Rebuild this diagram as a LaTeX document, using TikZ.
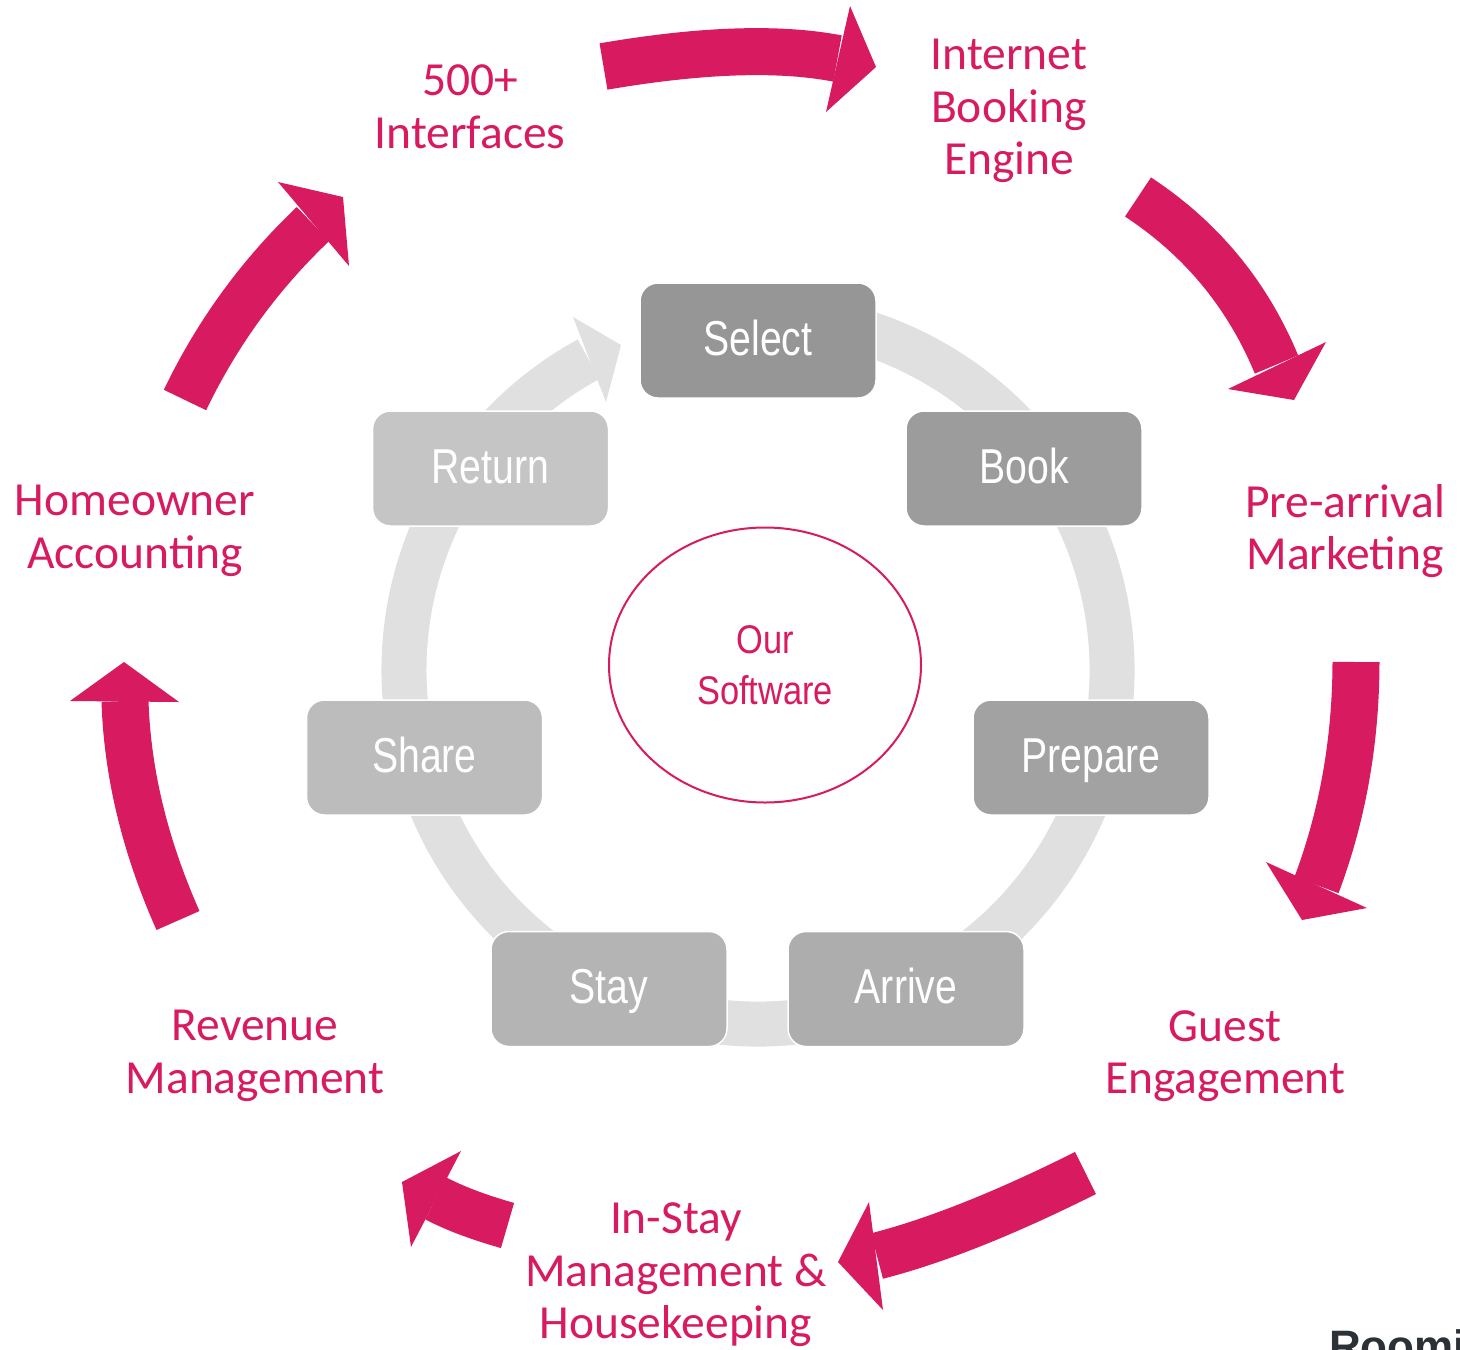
\documentclass[tikz,border=0pt]{standalone}
\usepackage{fontspec}
\setmainfont{Carlito}
\newfontfamily\narrowfont[FakeStretch=0.8]{Liberation Sans}
\newfontfamily\softfont[FakeStretch=0.86]{Liberation Sans}
\newfontfamily\logofont{Liberation Sans}
\usetikzlibrary{shapes.geometric}
\definecolor{pinkc}{HTML}{D81B60}
\definecolor{ringgray}{HTML}{E0E0E0}
\definecolor{gSelect}{HTML}{969696}
\definecolor{gBook}{HTML}{9C9C9C}
\definecolor{gPrepare}{HTML}{A2A2A2}
\definecolor{gArrive}{HTML}{ADADAD}
\definecolor{gStay}{HTML}{B4B4B4}
\definecolor{gShare}{HTML}{BCBCBC}
\definecolor{gReturn}{HTML}{C5C5C5}
\definecolor{logogray}{HTML}{2B3136}
\begin{document}
\begin{tikzpicture}[x=1pt,y=-1pt,
  stagebox/.style={rounded corners=18pt, minimum width=236pt, minimum height=115pt,
    draw=white, line width=1.5pt, text=white, inner sep=0pt,
    font=\narrowfont\fontsize{49}{52}\selectfont, text height=35pt, text depth=6pt},
  pinklabel/.style={text=pinkc, align=center, inner sep=0pt,
    font=\fontsize{47.5}{52.5}\selectfont},
  pinkbody/.style={draw=pinkc, line width=47pt, line cap=butt},
  pinkhead/.style={fill=pinkc},
  ringbody/.style={draw=ringgray, line width=45pt, line cap=butt},
]
\useasboundingbox (0,0) rectangle (1460,1350);
\fill[white] (0,0) rectangle (1460,1350);

% grey cycle ring
\coordinate (rc) at (758,670);
\draw[ringbody] ([shift={(105:354pt)}]rc) arc[start angle=105, end angle=-241.4, radius=354pt];
\coordinate (rw1) at (573,317);
\coordinate (rt) at (621,345);
\coordinate (rw2) at (606,402);
\fill[ringgray] (rw1) -- (rt) -- (rw2) -- cycle;

% stage boxes
\node[stagebox, fill=gSelect]  (select)  at (758,340.5)  {Select};
\node[stagebox, fill=gBook]    (book)    at (1024,468.5) {Book};
\node[stagebox, fill=gPrepare] (prepare) at (1091,757.5) {Prepare};
\node[stagebox, fill=gArrive]  (arrive)  at (906,989)    {Arrive};
\node[stagebox, fill=gStay]    (stay)    at (609,989)    {Stay};
\node[stagebox, fill=gShare]   (share)   at (424.5,757.5) {Share};
\node[stagebox, fill=gReturn]  (return)  at (490.5,468.5) {Return};

% centre ellipse
\node[draw=pinkc, line width=2pt, ellipse, minimum width=312pt, minimum height=275pt,
      inner sep=0pt, text=pinkc, align=center,
      font=\softfont\fontsize{40}{51}\selectfont] (soft) at (765,665) {Our\\Software};

% outer labels
\node[pinklabel] (iface)  at (470,107)  {500+\\Interfaces};
\node[pinklabel] (ibe)    at (1009,111) {Internet\\Booking\\Engine};
\node[pinklabel] (pre)    at (1345,531) {Pre-arrival\\Marketing};
\node[pinklabel] (guest)  at (1225,1056) {Guest\\Engagement};
\node[pinklabel] (instay) at (676,1275) {In-Stay\\Management \&\\Housekeeping};
\node[pinklabel] (rev)    at (255,1056) {Revenue\\Management};
\node[pinklabel] (home)   at (135,531)  {Homeowner\\Accounting};

% logo (cut off at the bottom edge, as in the reference)
\node[anchor=base west, inner sep=0pt, text=logogray,
      font=\logofont\bfseries\fontsize{44}{44}\selectfont] (logo) at (1329,1361) {Roomify};

% pink curved arrows
% 1: 500+ Interfaces -> Internet Booking Engine
\coordinate (a1s) at (603.5,66.5); \coordinate (a1e) at (837.5,58.5);
\coordinate (a1w1) at (850,6); \coordinate (a1t) at (876,67); \coordinate (a1w2) at (826,112);
\draw[pinkbody] (a1s) .. controls (700.8,49.8) and (778.8,47.2) .. (a1e);
\fill[pinkhead] (a1w1) -- (a1t) -- (a1w2) -- cycle;
% 2: Internet Booking Engine -> Pre-arrival Marketing
\coordinate (a2s) at (1138,197); \coordinate (a2e) at (1276.5,364.5);
\coordinate (a2w1) at (1228,389); \coordinate (a2t) at (1294,400); \coordinate (a2w2) at (1326,342);
\draw[pinkbody] (a2s) .. controls (1201.2,238.5) and (1247.3,294.3) .. (a2e);
\fill[pinkhead] (a2w1) -- (a2t) -- (a2w2) -- cycle;
% 3: Pre-arrival Marketing -> Guest Engagement
\coordinate (a3s) at (1356,662); \coordinate (a3e) at (1316.5,885);
\coordinate (a3w1) at (1266,862); \coordinate (a3t) at (1302,920); \coordinate (a3w2) at (1367,908);
\draw[pinkbody] (a3s) .. controls (1355.8,741) and (1342.7,815.3) .. (a3e);
\fill[pinkhead] (a3w1) -- (a3t) -- (a3w2) -- cycle;
% 4: Guest Engagement -> In-Stay
\coordinate (a4s) at (1085.5,1173); \coordinate (a4e) at (877,1256);
\coordinate (a4w1) at (869,1202); \coordinate (a4t) at (838,1262); \coordinate (a4w2) at (883,1310);
\draw[pinkbody] (a4s) .. controls (1005,1213.3) and (935.5,1241) .. (a4e);
\fill[pinkhead] (a4w1) -- (a4t) -- (a4w2) -- cycle;
% 5: In-Stay -> Revenue Management
\coordinate (a5s) at (507.5,1225.5); \coordinate (a5e) at (436,1198.5);
\coordinate (a5w1) at (461,1151); \coordinate (a5t) at (402,1182); \coordinate (a5w2) at (411,1247);
\draw[pinkbody] (a5s) .. controls (483.2,1218.5) and (458.5,1210.2) .. (a5e);
\fill[pinkhead] (a5w1) -- (a5t) -- (a5w2) -- cycle;
% 6: Revenue Management -> Homeowner Accounting
\coordinate (a6s) at (178,920.5); \coordinate (a6e) at (125,701);
\coordinate (a6w1) at (70,701); \coordinate (a6t) at (124,662); \coordinate (a6w2) at (179,702);
\draw[pinkbody] (a6s) .. controls (145,846.3) and (127.3,773.2) .. (a6e);
\fill[pinkhead] (a6w1) -- (a6t) -- (a6w2) -- cycle;
% 7: Homeowner Accounting -> 500+ Interfaces
\coordinate (a7s) at (185,400); \coordinate (a7e) at (313,224);
\coordinate (a7w1) at (278,182); \coordinate (a7t) at (343,197); \coordinate (a7w2) at (349,266);
\draw[pinkbody] (a7s) .. controls (217,333.3) and (259.7,274.7) .. (a7e);
\fill[pinkhead] (a7w1) -- (a7t) -- (a7w2) -- cycle;
\end{tikzpicture}
\end{document}
